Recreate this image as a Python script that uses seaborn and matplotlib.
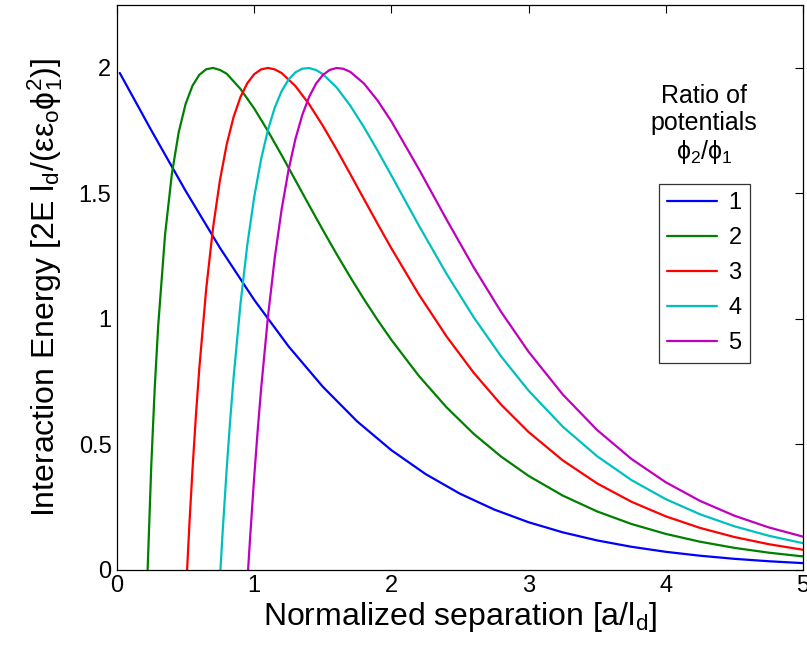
import numpy as np
import pandas as pd
import seaborn as sns
from matplotlib import pyplot as plt

# values, one list per ratio phi2/phi1
x1 = [0.02, 0.25, 0.5, 0.75, 1.0, 1.25, 1.5, 1.75, 2.0, 2.25, 2.5, 2.75, 3.0,
      3.25, 3.5, 3.75, 4.0, 4.25, 4.5, 4.75, 5.0]
y1 = [1.98, 1.7513, 1.5102, 1.2833, 1.0758, 0.8908, 0.7297, 0.5918, 0.4768, 0.3814,
      0.3034, 0.2402, 0.1897, 0.1493, 0.1172, 0.0919, 0.0719, 0.0563, 0.0439, 0.0343, 0.0268]

x2 = [0.2231, 0.25, 0.275, 0.3, 0.35, 0.4, 0.45, 0.5, 0.55, 0.6, 0.65, 0.7, 0.75, 0.8,
      0.9, 1.0, 1.1, 1.2, 1.3, 1.4, 1.5, 1.6, 1.7, 1.8, 1.9, 2.0, 2.2, 2.4, 2.6, 2.8,
      3.0, 3.25, 3.5, 3.75, 4.0, 4.25, 4.5, 4.75, 5.0]
y2 = [0.0, 0.4196, 0.7259, 0.9717, 1.3342, 1.5786, 1.7447, 1.8564, 1.9290, 1.9727,
      1.9947, 2.0, 1.9921, 1.9768, 1.9163, 1.8385, 1.7487, 1.6523, 1.5529, 1.4530,
      1.3546, 1.2589, 1.1667, 1.0786, 0.9951, 0.9163, 0.7731, 0.6488, 0.5420, 0.4512,
      0.3744, 0.2956, 0.2327, 0.1827, 0.1432, 0.1121, 0.0876, 0.0685, 0.0535]

x3 = [0.5108, 0.53, 0.55, 0.575, 0.6, 0.65, 0.7, 0.75, 0.8, 0.85, 0.9, 0.95, 1.0, 1.05,
      1.1, 1.15, 1.2, 1.3, 1.4, 1.5, 1.6, 1.7, 1.8, 1.9, 2.0, 2.2, 2.4, 2.6, 2.8, 3.0,
      3.25, 3.5, 3.75, 4.0, 4.25, 4.5, 4.75, 5.0]
y3 = [0.0, 0.2053, 0.3987, 0.6142, 0.8040, 1.1188, 1.3633, 1.5521, 1.6966, 1.8051,
      1.8843, 1.9396, 1.9752, 1.9943, 2.0, 1.9944, 1.9796, 1.9281, 1.8558, 1.7699,
      1.6758, 1.5774, 1.4775, 1.3782, 1.2812, 1.0976, 0.9317, 0.7853, 0.6582, 0.5492,
      0.4359, 0.3444, 0.2713, 0.2132, 0.1671, 0.1308, 0.1023, 0.0800]

x4 = [0.7538, 0.77, 0.8, 0.825, 0.85, 0.9, 0.95, 1.0, 1.05, 1.1, 1.15, 1.2, 1.25, 1.3,
      1.35, 1.4, 1.45, 1.5, 1.6, 1.7, 1.8, 1.9, 2.0, 2.2, 2.4, 2.6, 2.8, 3.0, 3.25, 3.5,
      3.75, 4.0, 4.25, 4.5, 4.75, 5.0]
y4 = [0.0, 0.1518, 0.4069, 0.5967, 0.7676, 1.0602, 1.2964, 1.4858, 1.6358, 1.7528,
      1.8421, 1.9077, 1.9535, 1.9824, 1.9971, 1.9996, 1.9919, 1.9757, 1.9228, 1.8500,
      1.7640, 1.6699, 1.5714, 1.3723, 1.1814, 1.0064, 0.8504, 0.7141, 0.5701, 0.4526,
      0.3577, 0.2817, 0.2213, 0.1736, 0.1359, 0.1063]

x5 = [0.9555, 0.97, 1.0, 1.025, 1.05, 1.1, 1.15, 1.2, 1.25, 1.3, 1.35, 1.4, 1.45, 1.5,
      1.55, 1.6, 1.65, 1.7, 1.8, 1.9, 2.0, 2.2, 2.4, 2.6, 2.8, 3.0, 3.25, 3.5, 3.75,
      4.0, 4.25, 4.5, 4.75, 5.0]
y5 = [0.0, 0.1274, 0.3703, 0.5529, 0.7191, 1.0073, 1.2440, 1.4369, 1.5924, 1.7159,
      1.8119, 1.8844, 1.9368, 1.9718, 1.9921, 1.9998, 1.9967, 1.9845, 1.9381, 1.8699,
      1.7870, 1.5972, 1.3979, 1.2053, 1.0277, 0.8690, 0.6983, 0.5570, 0.4418, 0.3490,
      0.2747, 0.2158, 0.1692, 0.1324]

ratios = ['1', '2', '3', '4', '5']
colors = ['#0000ff', '#008000', '#ff0000', '#00bfbf', '#bf00bf']

frames = []
for r, xs, ys in zip(ratios, [x1, x2, x3, x4, x5], [y1, y2, y3, y4, y5]):
    frames.append(pd.DataFrame({'sep': xs, 'energy': ys, 'ratio': r}))
df = pd.concat(frames, ignore_index=True)

sns.set_style('white')
plt.rcParams['font.family'] = ['Liberation Sans', 'DejaVu Sans']
plt.rcParams['mathtext.default'] = 'regular'
plt.rcParams['text.color'] = 'black'
plt.rcParams['axes.labelcolor'] = 'black'

fig = plt.figure(figsize=(8.07, 6.52), dpi=100)
ax = fig.add_axes([0.145, 0.126, 0.85, 0.866])

sns.lineplot(data=df, x='sep', y='energy', hue='ratio', palette=colors,
             estimator=None, sort=False, linewidth=1.6, ax=ax)

ax.set_xlim(0, 5)
ax.set_ylim(0, 2.25)
ax.set_xticks([0, 1, 2, 3, 4, 5])
ax.set_yticks([0, 0.5, 1, 1.5, 2])
ax.set_xticklabels(['0', '1', '2', '3', '4', '5'])
ax.set_yticklabels(['0', '0.5', '1', '1.5', '2'])
ax.tick_params(direction='in', length=6, width=0.8, labelsize=17, colors='black',
               top=True, right=True, pad=4)
for s in ax.spines.values():
    s.set_color('black')
    s.set_linewidth(0.9)

ax.set_xlabel('Normalized separation [a/l$_d$]', fontsize=23, labelpad=2)
ax.set_ylabel('Interaction Energy [2E l$_d$/(εε$_o$ϕ$_1^2$)]', fontsize=23, labelpad=10)

handles, labels = ax.get_legend_handles_labels()
leg = ax.legend(handles, labels, loc='upper left', bbox_to_anchor=(0.79, 0.683),
                fontsize=17, frameon=True, fancybox=False, edgecolor='black',
                handlelength=2.1, labelspacing=0.55, borderpad=0.35, handletextpad=0.5,
                borderaxespad=0)
leg.get_frame().set_linewidth(0.9)
ax.text(0.856, 0.86, 'Ratio of\npotentials\nϕ$_2$/ϕ$_1$', transform=ax.transAxes,
        ha='center', va='top', fontsize=18, linespacing=1.15)

fig.savefig('out.png', dpi=100)
